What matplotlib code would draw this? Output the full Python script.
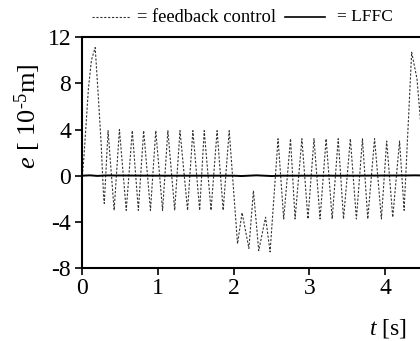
import matplotlib
matplotlib.use("Agg")
import matplotlib.pyplot as plt
from matplotlib.lines import Line2D

# feedback control error (peaks / troughs)
t_fb = [0.0, 0.02, 0.05, 0.08, 0.12, 0.17, 0.21, 0.25, 0.28, 0.29,
        0.34, 0.42, 0.49, 0.58, 0.66, 0.74, 0.81, 0.90, 0.97, 1.06,
        1.13, 1.22, 1.29, 1.39, 1.46, 1.55, 1.61, 1.70, 1.78, 1.86,
        1.94, 2.05, 2.11, 2.20, 2.26, 2.33, 2.42, 2.48,
        2.585, 2.66, 2.75, 2.81, 2.90, 2.98, 3.06, 3.14, 3.22, 3.30,
        3.38, 3.45, 3.54, 3.62, 3.70, 3.77, 3.86, 3.95, 4.02, 4.10,
        4.19, 4.25, 4.35, 4.42, 4.47]
e_fb = [0.0, 1.5, 4.5, 7.5, 10.0, 11.1, 7.0, 2.6, -1.7, -2.4,
        3.9, -3.0, 4.0, -3.0, 3.9, -3.0, 3.9, -3.0, 3.9, -3.0,
        3.9, -3.0, 3.9, -3.0, 3.9, -3.0, 3.9, -3.0, 3.9, -3.0,
        3.9, -5.9, -3.2, -6.3, -1.3, -6.5, -3.6, -6.6,
        3.2, -3.75, 3.2, -3.75, 3.2, -3.75, 3.2, -3.75, 3.2, -3.75,
        3.2, -3.75, 3.2, -3.75, 3.2, -3.75, 3.2, -3.75, 3.0, -3.6,
        3.0, -3.0, 10.7, 8.4, 4.5]

# LFFC error, stays close to zero
t_lffc = [0.0, 0.1, 0.2, 0.3, 1.0, 2.0, 2.1, 2.3, 2.5, 2.6, 3.5, 4.3, 4.4, 4.47]
e_lffc = [0.0, 0.03, -0.02, 0.02, 0.0, 0.0, -0.03, 0.03, -0.03, 0.0, 0.0, 0.02, 0.03, 0.02]

xticks = [0, 1, 2, 3, 4]
yticks = [-8, -4, 0, 4, 8, 12]

plt.rcParams['font.family'] = ['Liberation Serif', 'DejaVu Serif']
plt.rcParams['axes.unicode_minus'] = False
plt.rcParams['mathtext.fontset'] = 'custom'
plt.rcParams['mathtext.rm'] = 'Liberation Serif'
plt.rcParams['mathtext.it'] = 'Liberation Serif:italic'

fig = plt.figure(figsize=(4.2, 3.41), dpi=100)
ax = fig.add_axes([0.196, 0.214, 0.804, 0.677])

ax.plot(t_fb, e_fb, color='#333333', lw=0.8, linestyle=(0, (2, 1.5)))
ax.plot(t_lffc, e_lffc, color='black', lw=1.4)

ax.set_xlim(0, 4.46)
ax.set_ylim(-8, 12)
ax.set_xticks(xticks)
ax.set_yticks(yticks)
ax.set_yticklabels([str(v) for v in yticks])
ax.tick_params(labelsize=17, length=5, width=1.2, pad=2)
ax.tick_params(axis='y', pad=3)
ax.spines['right'].set_visible(False)
for s in ['left', 'bottom', 'top']:
    ax.spines[s].set_linewidth(1.5)

fig.text(0.969, 0.038, r'$t$ [s]', fontsize=17, ha='right', va='center')
fig.text(0.066, 0.66, '$e$ [ 10$^{\\mathrm{\u2010}5}$m]', fontsize=19,
         rotation=90, ha='center', va='center')

# legend row on top
ly = 1 - 17 / 341
fig.add_artist(Line2D([92 / 420, 130 / 420], [ly, ly], color='#333333',
                      lw=0.8, linestyle=(0, (2, 1.5))))
fig.text(137 / 420, ly, '= feedback control', fontsize=13.3, va='center')
fig.add_artist(Line2D([285 / 420, 325 / 420], [ly, ly], color='black', lw=1.2))
fig.text(337 / 420, ly, '= LFFC', fontsize=12.5, va='center')

fig.savefig('out.png', dpi=100)
